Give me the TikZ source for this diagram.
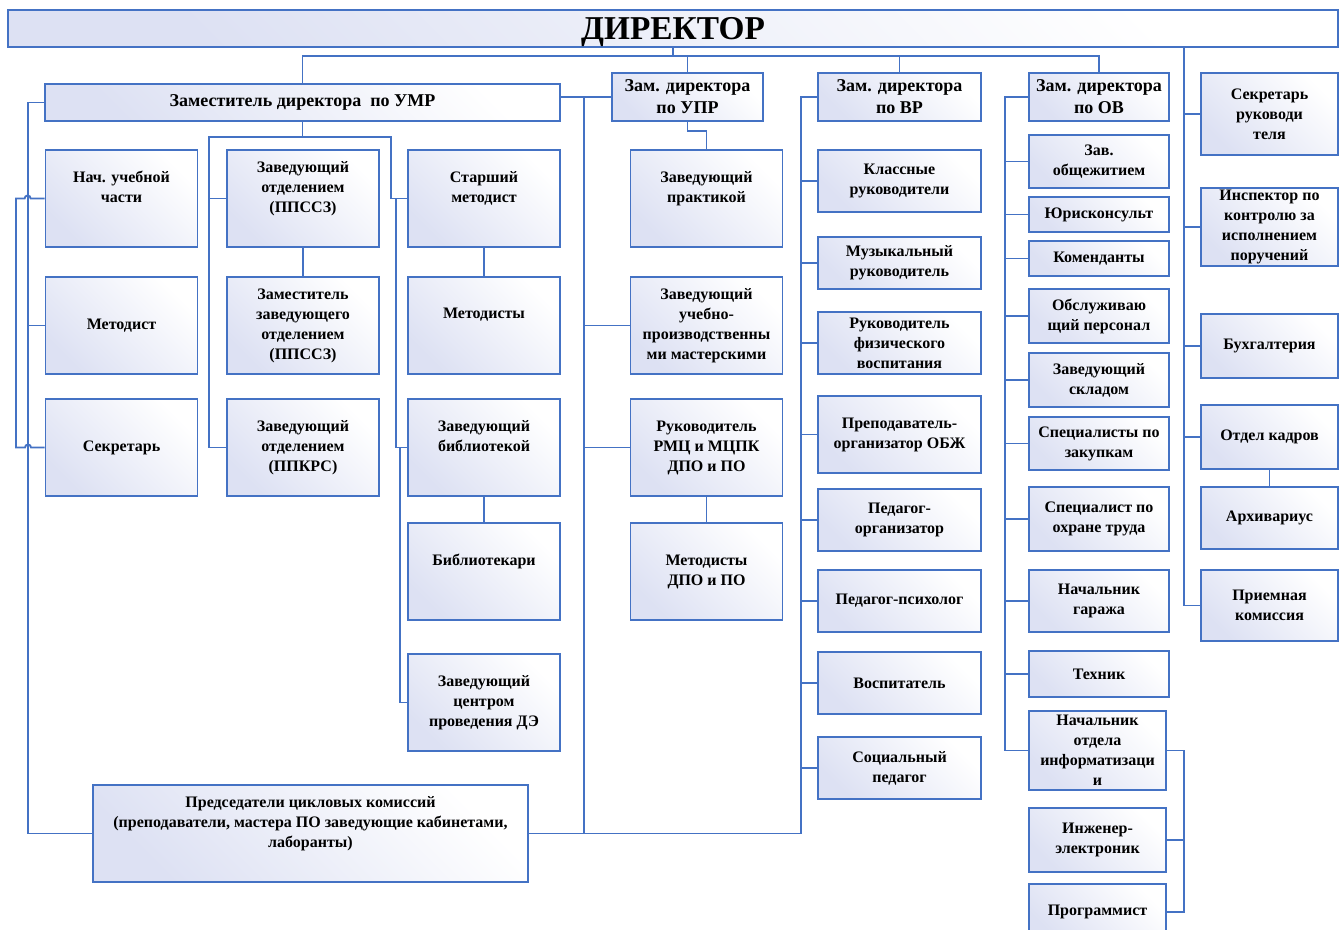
\documentclass[tikz,border=0pt]{standalone}
\usepackage{fontspec}
\setmainfont{Liberation Serif}
\definecolor{linkblue}{RGB}{68,114,196}
\definecolor{boxfill}{RGB}{221,225,243}
\newcommand\orgfont{\fontsize{12}{15}\selectfont\bfseries}
\newcommand\deputyfont{\fontsize{13.5}{16.5}\selectfont\bfseries}
\newcommand\headfont{\fontsize{25}{28}\selectfont\bfseries}
\tikzset{
  box/.style={draw=linkblue, line width=1.3pt, top color=boxfill, bottom color=white, shading angle=135,
    align=center, font=\orgfont, inner xsep=2pt, inner ysep=0pt},
  cell/.style={box, minimum width=114pt, minimum height=72.75pt},
  vrcell/.style={box, minimum width=122pt},
  ovcell/.style={box, minimum width=105pt},
  sidecell/.style={box, minimum width=103pt},
  deputy/.style={font=\deputyfont},
  upper/.style={text depth=18pt},
  link/.style={linkblue, line width=1.4pt},
}
\begin{document}
\begin{tikzpicture}[x=0.75pt, y=-0.75pt]
\useasboundingbox (0,0) rectangle (1341,930);

% head and deputies
\node[box, minimum width=997.5pt, minimum height=28pt, font=\headfont, text depth=0pt] (dir) at (673,28.5) {ДИРЕКТОР};
\node[box, deputy, minimum width=386pt, minimum height=28pt] (umr) at (302.5,102.5) {Заместитель директора\ \ по УМР};
\node[box, deputy, minimum width=113pt, minimum height=36pt] (upr) at (687.5,97) {Зам. директора\\по УПР};
\node[vrcell, deputy, minimum height=36pt] (vr) at (899.5,97) {Зам. директора\\по ВР};
\node[ovcell, deputy, minimum height=36pt] (ov) at (1099,97) {Зам. директора\\по ОВ};

% UMR columns
\node[cell, upper] (nach) at (121.5,198.5) {Нач. учебной\\части};
\node[cell] (metodist) at (121.5,325.5) {Методист};
\node[cell] (sekr) at (121.5,447.5) {Секретарь};
\node[cell, upper] (zavppssz) at (303,198.5) {Заведующий\\отделением\\(ППССЗ)};
\node[cell] (zamzav) at (303,325.5) {Заместитель\\заведующего\\отделением\\(ППССЗ)};
\node[cell] (zavppkrs) at (303,447.5) {Заведующий\\отделением\\(ППКРС)};
\node[cell, upper] (stmet) at (484,198.5) {Старший\\методист};
\node[cell, upper] (metodisty) at (484,325.5) {Методисты};
\node[cell, upper] (zavbib) at (484,447.5) {Заведующий\\библиотекой};
\node[cell, upper] (bibl) at (484,571.5) {Библиотекари};
\node[cell] (zavcentr) at (484,702.5) {Заведующий\\центром\\проведения ДЭ};

% UPR column
\node[cell, upper] (praktika) at (706.5,198.5) {Заведующий\\практикой};
\node[cell] (masterskie) at (706.5,325.5) {Заведующий\\учебно-\\производственны\\ми мастерскими};
\node[cell] (rmc) at (706.5,447.5) {Руководитель\\РМЦ и МЦПК\\ДПО и ПО};
\node[cell] (metdpo) at (706.5,571.5) {Методисты\\ДПО и ПО};

% VR column
\node[vrcell, minimum height=46.5pt] (klass) at (899.5,181) {Классные\\руководители};
\node[vrcell, minimum height=39pt] (muz) at (899.5,263) {Музыкальный\\руководитель};
\node[vrcell, minimum height=46.5pt] (fiz) at (899.5,343) {Руководитель\\физического\\воспитания};
\node[vrcell, minimum height=58pt] (obzh) at (899.5,434.5) {Преподаватель-\\организатор ОБЖ};
\node[vrcell, minimum height=46.5pt] (pedorg) at (899.5,520) {Педагог-\\организатор};
\node[vrcell, minimum height=46.5pt] (psih) at (899.5,601) {Педагог-психолог};
\node[vrcell, minimum height=46.5pt] (vosp) at (899.5,683) {Воспитатель};
\node[vrcell, minimum height=46.5pt] (soc) at (899.5,768) {Социальный\\педагог};

% OV column
\node[ovcell, minimum height=40pt] (obshch) at (1099,161.5) {Зав.\\общежитием};
\node[ovcell, minimum height=26pt] (jur) at (1099,214.5) {Юрисконсульт};
\node[ovcell, minimum height=26pt] (koment) at (1099,258.5) {Коменданты};
\node[ovcell, minimum height=40.5pt] (obsl) at (1099,316) {Обслуживаю\\щий персонал};
\node[ovcell, minimum height=40.5pt] (sklad) at (1099,380) {Заведующий\\складом};
\node[ovcell, minimum height=40pt] (zakup) at (1099,443.5) {Специалисты по\\закупкам};
\node[ovcell, minimum height=48pt] (ohrana) at (1099,519) {Специалист по\\охране труда};
\node[ovcell, minimum height=46.5pt] (garazh) at (1099,601) {Начальник\\гаража};
\node[ovcell, minimum height=34.5pt] (tehnik) at (1099,674) {Техник};
\node[sidecell, minimum height=59pt] (inform) at (1097.5,750.5) {Начальник\\отдела\\информатизаци\\и};
\node[sidecell, minimum height=48pt] (inzh) at (1097.5,840) {Инженер-\\электроник};
\node[sidecell, minimum height=42pt] (prog) at (1097.5,912) {Программист};

% right column
\node[sidecell, minimum height=61.5pt] (sekrruk) at (1269.5,114) {Секретарь\\руководи\\теля};
\node[sidecell, minimum height=58.5pt] (inspektor) at (1269.5,227) {Инспектор по\\контролю за\\исполнением\\поручений};
\node[sidecell, minimum height=48pt] (buh) at (1269.5,346) {Бухгалтерия};
\node[sidecell, minimum height=48pt] (kadry) at (1269.5,437) {Отдел кадров};
\node[sidecell, minimum height=46.5pt] (arhiv) at (1269.5,518) {Архивариус};
\node[sidecell, minimum height=53pt] (priem) at (1269.5,605.5) {Приемная\\комиссия};

\node[box, minimum width=326pt, minimum height=72.75pt, upper] (pred) at (310.5,833.5)
  {Председатели цикловых комиссий\\(преподаватели, мастера ПО заведующие кабинетами,\\лаборанты)};

% trunks
\coordinate (bus) at (673,56);
\coordinate (trunkA) at (28,0);
\coordinate (trunkS) at (16,0);
\coordinate (trunkU) at (584,0);
\coordinate (trunkV) at (801,0);
\coordinate (trunkO) at (1005,0);
\coordinate (trunkR) at (1184,0);
\coordinate (busB) at (209,137);
\coordinate (busC) at (391,137);

\draw[link] (dir.south) -- (bus);
\draw[link] (umr.north) |- (bus) -| (ov.north);
\draw[link] (upr.north) -- (upr.north |- bus);
\draw[link] (vr.north) -- (vr.north |- bus);

% UMR
\draw[link] (umr.west) -| (pred.west -| trunkA) -- (pred.west);
\draw[link] (metodist.west) -- (metodist.west -| trunkA);
\draw[link] (nach.west) -- ++(-14,0) arc (0:-180:3) -- (nach.west -| trunkS)
  -- (sekr.west -| trunkS) -- ++(9,0) arc (180:360:3) -- (sekr.west);
\draw[link] (umr.south) -- (umr.south |- busB);
\draw[link] (zavppkrs.west) -| (busB) -- (busC) |- (stmet.west);
\draw[link] (zavppssz.west) -- (zavppssz.west -| busB);
\draw[link] (zavppssz.south) -- (zamzav.north);
\draw[link] (stmet.south) -- (metodisty.north);
\draw[link] (stmet.west) ++(-11,0) |- (zavbib.west);
\draw[link] (zavbib.west) ++(-7,0) |- (zavcentr.west);
\draw[link] (zavbib.south) -- (bibl.north);

% UPR
\draw[link] (upr.west) -- (upr.west -| umr.east);
\draw[link] (upr.west -| trunkU) -- (pred.east -| trunkU);
\draw[link] (masterskie.west) -- (masterskie.west -| trunkU);
\draw[link] (rmc.west) -- (rmc.west -| trunkU);
\draw[link] (upr.south) -- ++(0,9) -| (praktika.north);
\draw[link] (rmc.south) -- (metdpo.north);

% VR
\draw[link] (vr.west) -| (pred.east -| trunkV) -- (pred.east);
\foreach \n in {klass, muz, fiz, obzh, pedorg, psih, vosp, soc}
  \draw[link] (\n.west) -- (\n.west -| trunkV);

% OV
\draw[link] (ov.west) -| (inform.west -| trunkO) -- (inform.west);
\foreach \n in {obshch, jur, koment, obsl, sklad, zakup, ohrana, garazh, tehnik}
  \draw[link] (\n.west) -- (\n.west -| trunkO);
\draw[link] (inform.east) -| (prog.east -| trunkR) -- (prog.east);
\draw[link] (inzh.east) -- (inzh.east -| trunkR);

% right
\draw[link] (dir.south -| trunkR) |- (priem.west);
\foreach \n in {sekrruk, inspektor, buh, kadry}
  \draw[link] (\n.west) -- (\n.west -| trunkR);
\draw[link] (kadry.south) -- (arhiv.north);
\end{tikzpicture}
\end{document}
